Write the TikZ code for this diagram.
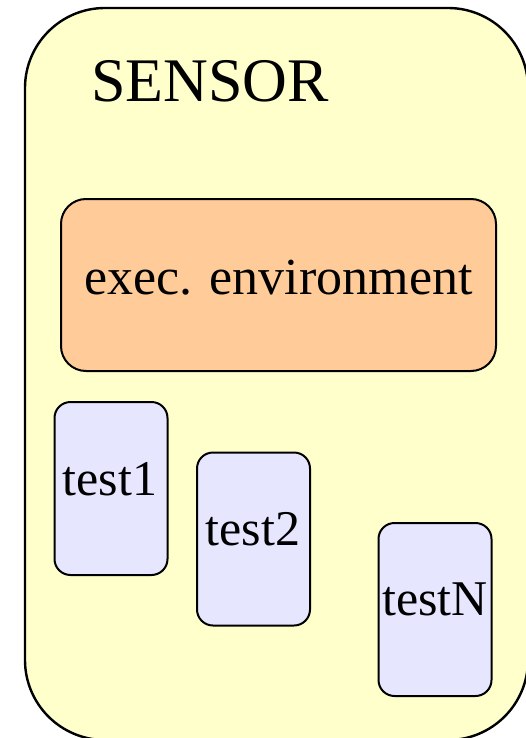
\documentclass[tikz,border=0pt]{standalone}
\usepackage{fontspec}
\setmainfont{Liberation Serif}
\definecolor{sensorfill}{HTML}{FFFFCC}
\definecolor{execfill}{HTML}{FFCC99}
\definecolor{testfill}{HTML}{E6E6FF}
\begin{document}
\begin{tikzpicture}[x=1pt,y=-1pt,
  outerbox/.style={draw=black,line width=2.4pt,fill=sensorfill,rounded corners=80pt,inner sep=0pt},
  execbox/.style={draw=black,line width=2pt,fill=execfill,rounded corners=25pt,inner sep=0pt,minimum width=435pt,minimum height=172pt},
  testbox/.style={draw=black,line width=2pt,fill=testfill,rounded corners=16pt,inner sep=0pt,minimum width=113pt,minimum height=173pt},
  lbl/.style={anchor=base,inner sep=0pt,font=\fontsize{50}{60}\selectfont},
  title/.style={anchor=base west,inner sep=0pt,font=\fontsize{62}{72}\selectfont}]
\useasboundingbox (0,0) rectangle (526,738);
\draw[outerbox] (25,8) rectangle (528,740);
\node[title] (sensor) at (91,102) {SENSOR};
\node[execbox] (exec) at (278.5,285) {};
\node[lbl,font=\fontsize{52}{60}\selectfont] (execlbl) at (278.5,294) {exec. environment};
\node[testbox] (t1) at (111,488.5) {};
\node[lbl] (t1lbl) at (110,495) {test1};
\node[testbox] (t2) at (253.5,539) {};
\node[lbl] (t2lbl) at (253,545) {test2};
\node[testbox] (tN) at (435,609.5) {};
\node[lbl] (tNlbl) at (435,615) {testN};
\end{tikzpicture}
\end{document}
